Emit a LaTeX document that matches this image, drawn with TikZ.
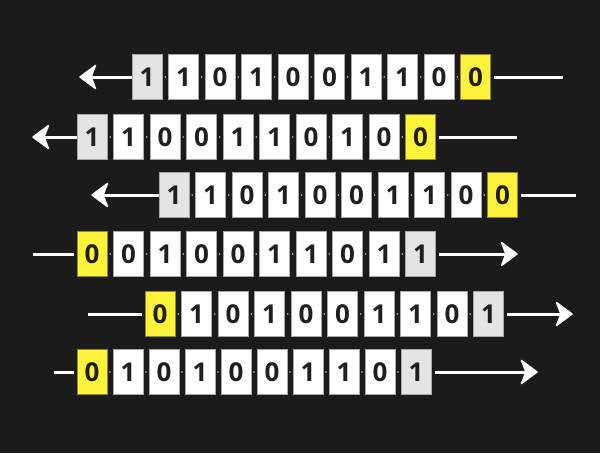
\documentclass[tikz,border=0pt]{standalone}
\usepackage{fontspec}
\setmainfont{Open Sans}

\definecolor{bgdark}{HTML}{1B1B1B}
\definecolor{bitgrey}{HTML}{E4E4E4}
\definecolor{bityellow}{HTML}{FFF23A}
\definecolor{yellowedge}{HTML}{8C8A2E}
\definecolor{digitink}{HTML}{1F1F1F}

% one register row: name, left edge, centre y, pitch, digits, first fill, last fill
\newcommand\bitrow[7]{%
  \foreach \d [count=\i] in {#5} {%
    \ifnum\i=1 \def\fc{#6}\else\ifnum\i=10 \def\fc{#7}\else\def\fc{white}\fi\fi
    \ifx\fc\ylw \def\ec{yellowedge}\else\def\ec{gray!70}\fi
    \node[bit, fill=\fc, draw=\ec] (#1-\i) at ({#2+15+(\i-1)*#4},#3) {\d};
    \ifnum\i>1 \fill[sepdot] ({#2+15+(\i-1.5)*#4},#3) circle (0.9pt);\fi
  }}
\def\ylw{bityellow}

\begin{document}
\begin{tikzpicture}[x=1pt, y=-1pt,
    bit/.style={minimum width=30pt, minimum height=45pt, inner sep=0pt,
      line width=1pt, text=digitink,
      font=\fontsize{26}{26}\selectfont\bfseries},
    sepdot/.style={gray!55},
    wire/.style={white, line width=3pt},
    shift arrow/.style={wire, shorten >=12pt},
    headtip/.pic={\filldraw[white, line width=1.5pt, line join=round]
      (0,0) -- (-15.5,-11.5) -- (-11,0) -- (-15.5,11.5) -- cycle;}]

  \fill[bgdark] (0,0) rectangle (600,453);
  \useasboundingbox (0,0) rectangle (600,453);

  % shift left
  \bitrow{ra}{132}{77}{36.5}{1,1,0,1,0,0,1,1,0,0}{bitgrey}{bityellow}
  \bitrow{rb}{77}{137}{36.5}{1,1,0,0,1,1,0,1,0,0}{bitgrey}{bityellow}
  \bitrow{rc}{159}{195}{36.5}{1,1,0,1,0,0,1,1,0,0}{bitgrey}{bityellow}

  % shift right
  \bitrow{rd}{77}{254}{36.5}{0,0,1,0,0,1,1,0,1,1}{bityellow}{bitgrey}
  \bitrow{re}{145}{314}{36.5}{0,1,0,1,0,0,1,1,0,1}{bityellow}{bitgrey}
  \bitrow{rf}{77}{372}{36}{0,1,0,1,0,0,1,1,0,1}{bityellow}{bitgrey}

  \coordinate (ta) at (80,77);   \coordinate (ia) at (563,77);
  \coordinate (tb) at (33,137);  \coordinate (ib) at (517,137);
  \coordinate (tc) at (92,195);  \coordinate (ic) at (576,195);
  \coordinate (id) at (33,254);  \coordinate (td) at (517,254);
  \coordinate (ie) at (88,314);  \coordinate (te) at (572,314);
  \coordinate (if) at (54,372);  \coordinate (tf) at (537,372);

  \draw[shift arrow] (ra-1.west) -- (ta);
  \draw[wire, shorten <=3pt] (ra-10.east) -- (ia);
  \draw[shift arrow] (rb-1.west) -- (tb);
  \draw[wire, shorten <=3pt] (rb-10.east) -- (ib);
  \draw[shift arrow] (rc-1.west) -- (tc);
  \draw[wire, shorten <=3pt] (rc-10.east) -- (ic);
  \pic[rotate=180] at (ta) {headtip};
  \pic[rotate=180] at (tb) {headtip};
  \pic[rotate=180] at (tc) {headtip};

  \draw[wire, shorten <=3pt] (rd-1.west) -- (id);
  \draw[shift arrow, shorten <=3pt] (rd-10.east) -- (td);
  \draw[wire, shorten <=3pt] (re-1.west) -- (ie);
  \draw[shift arrow, shorten <=3pt] (re-10.east) -- (te);
  \draw[wire, shorten <=3pt] (rf-1.west) -- (if);
  \draw[shift arrow, shorten <=3pt] (rf-10.east) -- (tf);
  \pic at (td) {headtip};
  \pic at (te) {headtip};
  \pic at (tf) {headtip};

\end{tikzpicture}
\end{document}
